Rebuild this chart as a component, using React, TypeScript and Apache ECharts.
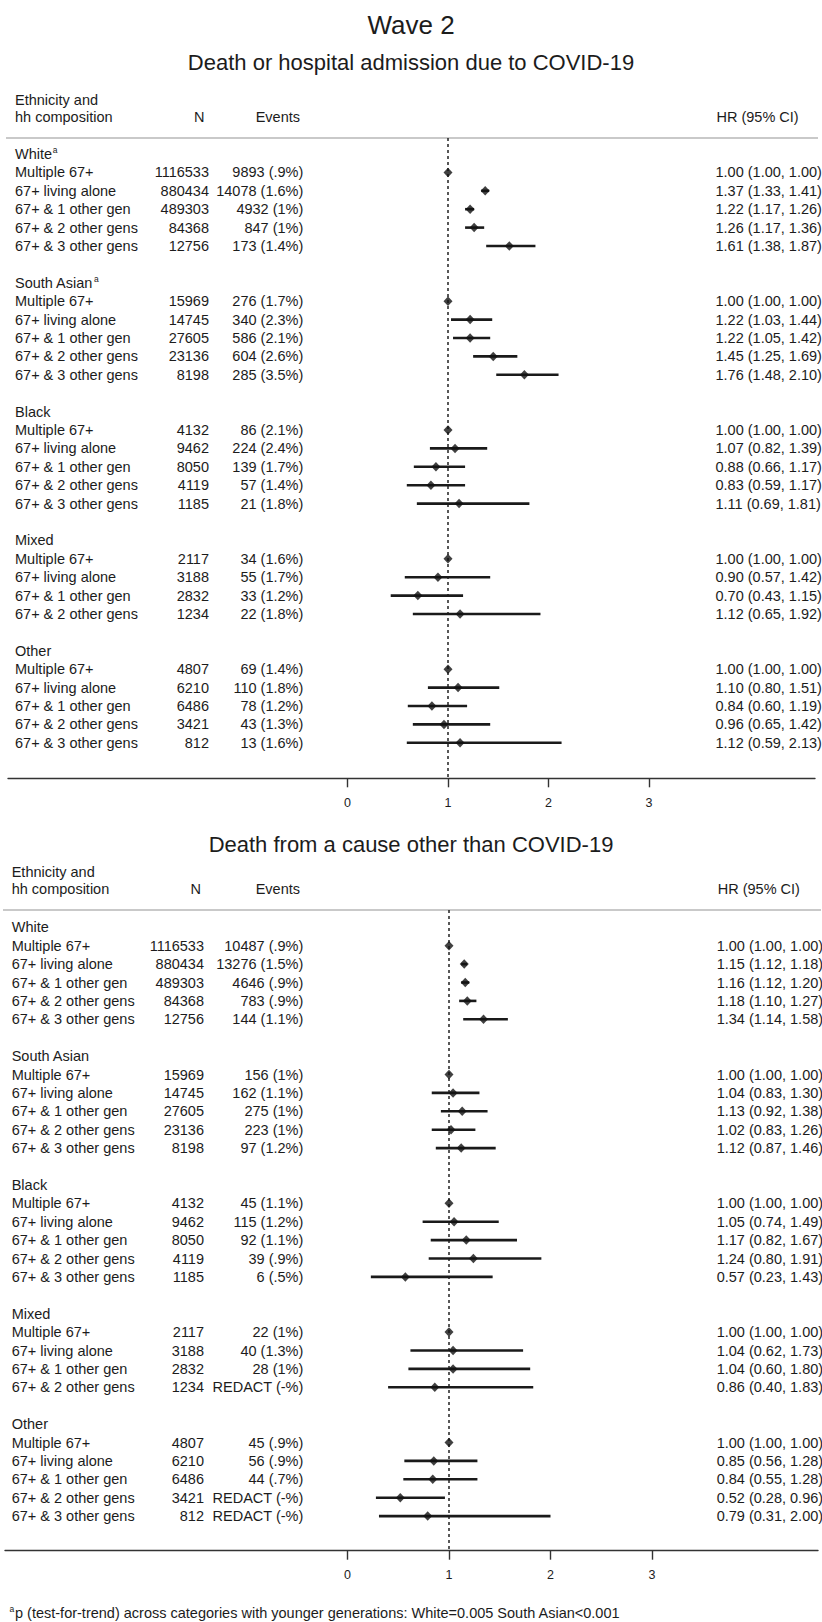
import React, { useEffect, useRef } from "react";
import * as echarts from "echarts";

// ---------- DATA ----------
const groupNames = ["White", "South Asian", "Black", "Mixed", "Other"];
const hhLabels = [
  "Multiple 67+",
  "67+ living alone",
  "67+ & 1 other gen",
  "67+ & 2 other gens",
  "67+ & 3 other gens",
];

const nWhite = [1116533, 880434, 489303, 84368, 12756];
const nSouthAsian = [15969, 14745, 27605, 23136, 8198];
const nBlack = [4132, 9462, 8050, 4119, 1185];
const nMixed = [2117, 3188, 2832, 1234];
const nOther = [4807, 6210, 6486, 3421, 812];
const nByGroup = [nWhite, nSouthAsian, nBlack, nMixed, nOther];

// Panel 1: Death or hospital admission due to COVID-19
const covidEvents = [
  ["9893 (.9%)", "14078 (1.6%)", "4932 (1%)", "847 (1%)", "173 (1.4%)"],
  ["276 (1.7%)", "340 (2.3%)", "586 (2.1%)", "604 (2.6%)", "285 (3.5%)"],
  ["86 (2.1%)", "224 (2.4%)", "139 (1.7%)", "57 (1.4%)", "21 (1.8%)"],
  ["34 (1.6%)", "55 (1.7%)", "33 (1.2%)", "22 (1.8%)"],
  ["69 (1.4%)", "110 (1.8%)", "78 (1.2%)", "43 (1.3%)", "13 (1.6%)"],
];
const covidHR = [
  [1.0, 1.37, 1.22, 1.26, 1.61],
  [1.0, 1.22, 1.22, 1.45, 1.76],
  [1.0, 1.07, 0.88, 0.83, 1.11],
  [1.0, 0.9, 0.7, 1.12],
  [1.0, 1.1, 0.84, 0.96, 1.12],
];
const covidLo = [
  [1.0, 1.33, 1.17, 1.17, 1.38],
  [1.0, 1.03, 1.05, 1.25, 1.48],
  [1.0, 0.82, 0.66, 0.59, 0.69],
  [1.0, 0.57, 0.43, 0.65],
  [1.0, 0.8, 0.6, 0.65, 0.59],
];
const covidHi = [
  [1.0, 1.41, 1.26, 1.36, 1.87],
  [1.0, 1.44, 1.42, 1.69, 2.1],
  [1.0, 1.39, 1.17, 1.17, 1.81],
  [1.0, 1.42, 1.15, 1.92],
  [1.0, 1.51, 1.19, 1.42, 2.13],
];
const covidSup = [true, true, false, false, false];

// Panel 2: Death from a cause other than COVID-19
const otherEvents = [
  ["10487 (.9%)", "13276 (1.5%)", "4646 (.9%)", "783 (.9%)", "144 (1.1%)"],
  ["156 (1%)", "162 (1.1%)", "275 (1%)", "223 (1%)", "97 (1.2%)"],
  ["45 (1.1%)", "115 (1.2%)", "92 (1.1%)", "39 (.9%)", "6 (.5%)"],
  ["22 (1%)", "40 (1.3%)", "28 (1%)", "REDACT (-%)"],
  ["45 (.9%)", "56 (.9%)", "44 (.7%)", "REDACT (-%)", "REDACT (-%)"],
];
const otherHR = [
  [1.0, 1.15, 1.16, 1.18, 1.34],
  [1.0, 1.04, 1.13, 1.02, 1.12],
  [1.0, 1.05, 1.17, 1.24, 0.57],
  [1.0, 1.04, 1.04, 0.86],
  [1.0, 0.85, 0.84, 0.52, 0.79],
];
const otherLo = [
  [1.0, 1.12, 1.12, 1.1, 1.14],
  [1.0, 0.83, 0.92, 0.83, 0.87],
  [1.0, 0.74, 0.82, 0.8, 0.23],
  [1.0, 0.62, 0.6, 0.4],
  [1.0, 0.56, 0.55, 0.28, 0.31],
];
const otherHi = [
  [1.0, 1.18, 1.2, 1.27, 1.58],
  [1.0, 1.3, 1.38, 1.26, 1.46],
  [1.0, 1.49, 1.67, 1.91, 1.43],
  [1.0, 1.73, 1.8, 1.83],
  [1.0, 1.28, 1.28, 0.96, 2.0],
];
const otherSup = [false, false, false, false, false];

const xTicks = [0, 1, 2, 3];
const refHR = 1;

const mainTitle = "Wave 2";
const colHeaders = ["Ethnicity and", "hh composition", "N", "Events", "HR (95% CI)"];
const footnote =
  "p (test-for-trend) across categories with younger generations: White=0.005 South Asian<0.001";

// ---------- LAYOUT ----------
const FONT = "'Liberation Sans', Arial, Helvetica, sans-serif";
const TXT = "#1c1c1c";
const FS = 14.5;
const STEP = 18.4;

const panels = [
  {
    title: "Death or hospital admission due to COVID-19",
    titleY: 62,
    sepY: 138,
    axisY: 778.3,
    row0: 154,
    labelX: 15,
    nX: 209,
    evX: 303.3,
    hrX: 715.5,
    nHeadX: 204.5,
    evHeadX: 300,
    gridLeft: 8,
    gridRight: 815,
    zeroX: 347.5,
    unit: 100.5,
    sup: covidSup,
    events: covidEvents,
    hr: covidHR,
    lo: covidLo,
    hi: covidHi,
  },
  {
    title: "Death from a cause other than COVID-19",
    titleY: 844,
    sepY: 910,
    axisY: 1550.7,
    row0: 927.3,
    labelX: 11.7,
    nX: 204,
    evX: 303.3,
    hrX: 716.7,
    nHeadX: 201,
    evHeadX: 300,
    gridLeft: 5,
    gridRight: 818,
    zeroX: 347.5,
    unit: 101.5,
    sup: otherSup,
    events: otherEvents,
    hr: otherHR,
    lo: otherLo,
    hi: otherHi,
  },
];

function measure(text: string, size: number) {
  const c = document.createElement("canvas").getContext("2d");
  if (!c) return text.length * size * 0.5;
  c.font = `${size}px ${FONT}`;
  return c.measureText(text).width;
}

type Row = {
  idx: number;
  label: string;
  header: boolean;
  sup?: boolean;
  n?: number;
  ev?: string;
  hr?: number;
  lo?: number;
  hi?: number;
};

function buildRows(p: any): Row[] {
  const rows: Row[] = [];
  let idx = 0;
  groupNames.forEach((g, gi) => {
    rows.push({ idx, label: g, header: true, sup: p.sup[gi] });
    idx++;
    p.hr[gi].forEach((v: number, i: number) => {
      rows.push({
        idx,
        label: hhLabels[i],
        header: false,
        n: nByGroup[gi][i],
        ev: p.events[gi][i],
        hr: v,
        lo: p.lo[gi][i],
        hi: p.hi[gi][i],
      });
      idx++;
    });
    idx++;
  });
  return rows;
}

function txt(x: number, y: number, text: string, align: string, size = FS, extra: any = {}) {
  return {
    type: "text",
    x,
    y,
    silent: true,
    style: {
      text,
      fill: TXT,
      fontSize: size,
      fontFamily: FONT,
      align,
      verticalAlign: "middle",
      textAlign: align,
      textVerticalAlign: "middle",
      ...extra,
    },
  };
}

export default function App() {
  const ref = useRef<HTMLDivElement>(null);

  useEffect(() => {
    if (!ref.current) return;
    const chart = echarts.init(ref.current, null, { renderer: "svg" });

    const grids: any[] = [];
    const xAxes: any[] = [];
    const yAxes: any[] = [];
    const series: any[] = [];
    const graphics: any[] = [];

    graphics.push(txt(411, 25, mainTitle, "center", 26));

    panels.forEach((p, pi) => {
      const rows = buildRows(p);
      grids.push({
        left: p.gridLeft,
        top: p.sepY,
        width: p.gridRight - p.gridLeft,
        height: p.axisY - p.sepY,
        containLabel: false,
      });
      xAxes.push({
        type: "value",
        gridIndex: pi,
        min: (p.gridLeft - p.zeroX) / p.unit,
        max: (p.gridRight - p.zeroX) / p.unit,
        position: "bottom",
        splitLine: { show: false },
        axisLine: { show: true, onZero: false, lineStyle: { color: "#333", width: 1.4 } },
        axisTick: {
          show: true,
          customValues: xTicks,
          length: 9,
          lineStyle: { color: "#333", width: 1.4 },
        },
        axisLabel: {
          show: true,
          customValues: xTicks,
          fontSize: 12.5,
          color: TXT,
          fontFamily: FONT,
          margin: 18,
        },
      });
      yAxes.push({
        type: "value",
        gridIndex: pi,
        inverse: true,
        min: (p.sepY - p.row0) / STEP,
        max: (p.axisY - p.row0) / STEP,
        show: false,
      });

      // Titles, headers, separator
      graphics.push(txt(411, p.titleY, p.title, "center", 22));
      graphics.push(txt(p.labelX, p.sepY - 38, colHeaders[0], "left"));
      graphics.push(txt(p.labelX, p.sepY - 21, colHeaders[1], "left"));
      graphics.push(txt(p.nHeadX, p.sepY - 21, colHeaders[2], "right"));
      graphics.push(txt(p.evHeadX, p.sepY - 21, colHeaders[3], "right"));
      graphics.push(txt(p.hrX + 1, p.sepY - 21, colHeaders[4], "left"));
      graphics.push({
        type: "line",
        silent: true,
        shape: { x1: p.gridLeft - 2, y1: p.sepY, x2: p.gridRight + 3, y2: p.sepY },
        style: { stroke: "#c9c9c9", lineWidth: 2 },
      });

      // Table text via custom series
      series.push({
        type: "custom",
        xAxisIndex: pi,
        yAxisIndex: pi,
        clip: false,
        silent: true,
        data: rows.map((r) => [0, r.idx]),
        renderItem: (params: any, api: any) => {
          const r = rows[params.dataIndex];
          const y = api.coord([0, r.idx])[1];
          const children: any[] = [txt(p.labelX, y, r.label, "left")];
          if (r.header) {
            if (r.sup) {
              const w = measure(r.label, FS);
              children.push(txt(p.labelX + w + 0.8, y - 4, "a", "left", 8.5));
            }
          } else {
            children.push(txt(p.nX, y, String(r.n), "right"));
            children.push(txt(p.evX, y, r.ev as string, "right"));
            const hrText = `${(r.hr as number).toFixed(2)} (${(r.lo as number).toFixed(2)}, ${(r.hi as number).toFixed(2)})`;
            children.push(txt(p.hrX, y, hrText, "left"));
          }
          return { type: "group", children };
        },
      });

      const est = rows.filter((r) => !r.header);

      // CI lines
      series.push({
        type: "custom",
        xAxisIndex: pi,
        yAxisIndex: pi,
        clip: false,
        silent: true,
        z: 3,
        encode: { x: [0, 2], y: 1 },
        data: est.map((r) => [r.lo, r.idx, r.hi]),
        renderItem: (params: any, api: any) => {
          const a = api.coord([api.value(0), api.value(1)]);
          const b = api.coord([api.value(2), api.value(1)]);
          return {
            type: "line",
            shape: { x1: a[0], y1: a[1], x2: b[0], y2: b[1] },
            style: { stroke: "#1a1a1a", lineWidth: 2.6, lineCap: "butt" },
          };
        },
      });

      // Point estimates + reference line
      series.push({
        type: "scatter",
        xAxisIndex: pi,
        yAxisIndex: pi,
        silent: true,
        z: 5,
        symbol: "diamond",
        symbolSize: [9, 9.5],
        itemStyle: { color: "#111" },
        data: est.map((r) => [r.hr, r.idx]),
        markLine: {
          silent: true,
          symbol: "none",
          label: { show: false },
          lineStyle: { type: [3, 3], color: "#222", width: 1.5 },
          data: [{ xAxis: refHR }],
          z: 1,
        },
      });
    });

    // Footnote
    graphics.push(txt(9.5, 1609, "a", "left", 8.5));
    graphics.push(txt(15, 1613, footnote, "left"));

    chart.setOption({
      animation: false,
      backgroundColor: "#ffffff",
      grid: grids,
      xAxis: xAxes,
      yAxis: yAxes,
      series,
      graphic: { elements: graphics },
    });

    return () => chart.dispose();
  }, []);

  return (
    <div
      ref={ref}
      style={{ position: "absolute", left: 0, top: 0, width: 822, height: 1622, background: "#fff" }}
    />
  );
}
